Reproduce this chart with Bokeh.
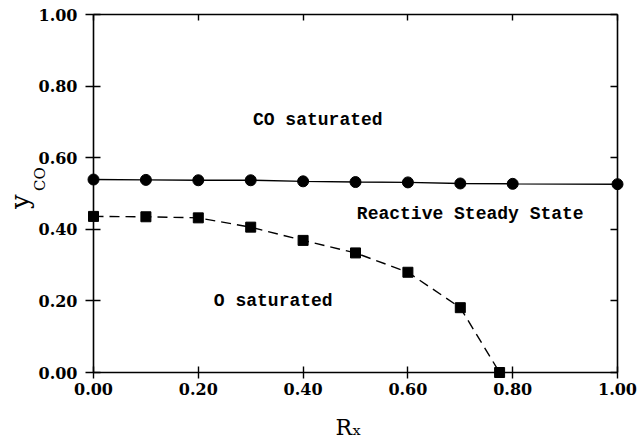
from bokeh.plotting import figure
from bokeh.models import Range1d, LinearAxis, Label, FixedTicker
from bokeh.embed import file_html
from bokeh.resources import INLINE

# Data
rx_circ = [0.0, 0.1, 0.2, 0.3, 0.4, 0.5, 0.6, 0.7, 0.8, 1.0]
y_circ = [0.539, 0.538, 0.537, 0.537, 0.534, 0.532, 0.531, 0.528, 0.527, 0.526]
rx_sq = [0.0, 0.1, 0.2, 0.3, 0.4, 0.5, 0.6, 0.7, 0.775]
y_sq = [0.436, 0.435, 0.432, 0.406, 0.369, 0.334, 0.280, 0.181, 0.0]
ticks = [0.0, 0.2, 0.4, 0.6, 0.8, 1.0]
tick_labels = {t: f"{t:.2f}" for t in ticks}
empty_labels = {t: "" for t in ticks}
NB = "\u00a0"

p = figure(width=643, height=444, output_backend="svg", toolbar_location=None,
           x_range=Range1d(0, 1), y_range=Range1d(0, 1),
           min_border_left=93, min_border_right=26, min_border_top=14, min_border_bottom=72)
p.outline_line_color = None
p.xgrid.visible = False
p.ygrid.visible = False
p.background_fill_color = "white"
p.border_fill_color = "white"

tick_font = "DejaVu Serif"
serif = "DejaVu Serif"

def style_axis(ax, labels, tin, tout):
    ax.ticker = FixedTicker(ticks=ticks)
    ax.major_label_overrides = labels
    ax.axis_line_color = "black"
    ax.axis_line_width = 1.6
    ax.major_tick_line_color = "black"
    ax.major_tick_line_width = 1.4
    ax.major_tick_in = tin
    ax.major_tick_out = tout
    ax.minor_tick_line_color = None
    ax.major_label_text_font = tick_font
    ax.major_label_text_font_style = "bold"
    ax.major_label_text_font_size = "16px"
    ax.major_label_text_color = "black"
    ax.axis_label_text_color = "black"
    ax.axis_label_text_font = serif
    ax.axis_label_text_font_style = "normal"

xa = p.xaxis[0]
style_axis(xa, tick_labels, 6, 6)
xa.major_label_standoff = 4
xa.axis_label = "R\u2093" + NB + NB
xa.axis_label_text_font_size = "22px"
xa.axis_label_standoff = 17

ya = p.yaxis[0]
style_axis(ya, tick_labels, 7, 8)
ya.major_label_standoff = 8
ya.axis_label = NB * 6 + "CO"
ya.axis_label_text_font_size = "15px"
ya.axis_label_standoff = -13

# outer left axis only carries the main symbol "y" of the y-axis title
ya2 = LinearAxis()
ya2.ticker = FixedTicker(ticks=[])
ya2.axis_line_color = None
ya2.major_tick_line_color = None
ya2.minor_tick_line_color = None
ya2.major_label_text_font_size = "1px"
ya2.major_label_standoff = 0
ya2.major_tick_in = 0
ya2.major_tick_out = 0
ya2.axis_label = "y" + NB + NB
ya2.axis_label_text_color = "black"
ya2.axis_label_text_font = serif
ya2.axis_label_text_font_style = "normal"
ya2.axis_label_text_font_size = "26px"
ya2.axis_label_standoff = -7
p.add_layout(ya2, "left")

top = LinearAxis()
style_axis(top, empty_labels, 6, 0)
top.major_label_text_font_size = "1px"
top.major_label_standoff = 0
p.add_layout(top, "above")
right = LinearAxis()
style_axis(right, empty_labels, 7, 0)
right.major_label_text_font_size = "1px"
right.major_label_standoff = 0
p.add_layout(right, "right")

# Curves
l1 = p.line(rx_circ, y_circ, line_color="black", line_width=1.4)
c1 = p.scatter(rx_circ, y_circ, marker="circle", size=11, fill_color="black", line_color="black")
l2 = p.line(rx_sq, y_sq, line_color="black", line_width=1.4, line_dash="10 6")
c2 = p.scatter(rx_sq, y_sq, marker="square", size=10, fill_color="black", line_color="black")
for r in (l1, c1, l2, c2):
    r.level = "overlay"

mono = "Liberation Mono"
for txt, x, y in [("CO saturated", 0.428, 0.704),
                  ("Reactive Steady State", 0.719, 0.443),
                  ("O saturated", 0.343, 0.199)]:
    p.add_layout(Label(x=x, y=y, text=txt, text_font=mono, text_font_style="bold",
                       text_font_size="18px", text_align="center", text_baseline="middle",
                       text_color="black"))

open("out.html", "w").write(file_html(p, INLINE))
